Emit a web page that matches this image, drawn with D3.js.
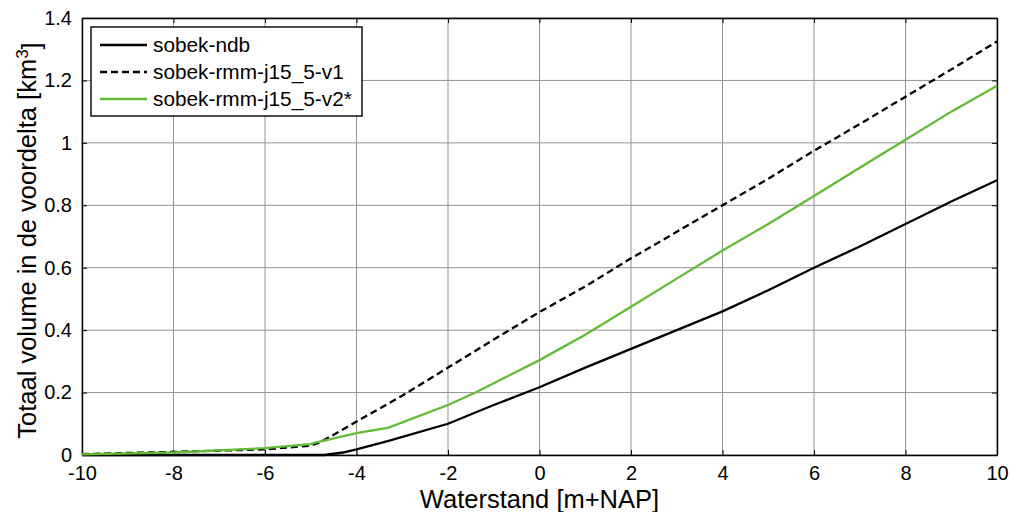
<!DOCTYPE html>
<html>
<head>
<meta charset="utf-8">
<script src="https://cdnjs.cloudflare.com/ajax/libs/d3/7.8.5/d3.min.js"></script>
<style>
  body { margin: 0; background: #fff; }
  text { font-family: Arial, "Liberation Sans", sans-serif; fill: #000; }
</style>
</head>
<body>
<svg id="chart" width="1011" height="512"></svg>
<script>
// series data
var ndbX = [-10, -8, -6, -5, -4.7, -4.3, -4, -3.3, -2, -1, 0, 1, 2, 3, 4, 5, 6, 7, 8, 9, 10];
var ndbY = [0, 0, 0, 0, 0, 0.008, 0.018, 0.045, 0.10, 0.16, 0.217, 0.28, 0.34, 0.40, 0.46, 0.528, 0.60, 0.668, 0.74, 0.812, 0.88];

var v1X = [-10, -8, -6, -5, -4.8, -4, -3, -2, -1, 0, 1, 2, 3, 4, 5, 6, 7, 8, 9, 10];
var v1Y = [0.003, 0.01, 0.018, 0.03, 0.04, 0.107, 0.19, 0.28, 0.37, 0.458, 0.54, 0.63, 0.715, 0.80, 0.885, 0.975, 1.06, 1.148, 1.235, 1.325];

var v2X = [-10, -8, -6, -5, -4.9, -4, -3.3, -2, -1.4, -1, 0, 1, 2, 3, 4, 5, 6, 7, 7.4, 8, 9, 10];
var v2Y = [0.002, 0.008, 0.022, 0.035, 0.04, 0.07, 0.088, 0.16, 0.20, 0.23, 0.304, 0.385, 0.475, 0.565, 0.655, 0.74, 0.83, 0.92, 0.956, 1.01, 1.10, 1.183];

var seriesNames = ["sobek-ndb", "sobek-rmm-j15_5-v1", "sobek-rmm-j15_5-v2*"];
var seriesColors = ["#000000", "#000000", "#62bb35"];
var seriesDash = [null, "7,4", null];

var xTicks = [-10, -8, -6, -4, -2, 0, 2, 4, 6, 8, 10];
var yTicks = [0, 0.2, 0.4, 0.6, 0.8, 1, 1.2, 1.4];

var xTitle = "Waterstand [m+NAP]";
var yTitle = "Totaal volume in de voordelta [km";

var dimensions = {
    width: 1011,
    height: 512,
    margin: { top: 18, bottom: 57, left: 82, right: 14 }
};

var svg = d3.select("#chart");
var plotW = dimensions.width - dimensions.margin.left - dimensions.margin.right;
var plotH = dimensions.height - dimensions.margin.top - dimensions.margin.bottom;

var g = svg.append("g")
    .attr("transform", "translate(" + dimensions.margin.left + "," + dimensions.margin.top + ")");

var xScale = d3.scaleLinear().domain([-10, 10]).range([0, plotW]);
var yScale = d3.scaleLinear().domain([0, 1.4]).range([plotH, 0]);

// grid
g.selectAll(".xgrid").data(xTicks).enter().append("line")
    .attr("x1", d => xScale(d)).attr("x2", d => xScale(d))
    .attr("y1", 0).attr("y2", plotH)
    .attr("stroke", "#939393").attr("stroke-width", 1);
g.selectAll(".ygrid").data(yTicks).enter().append("line")
    .attr("y1", d => yScale(d)).attr("y2", d => yScale(d))
    .attr("x1", 0).attr("x2", plotW)
    .attr("stroke", "#939393").attr("stroke-width", 1);

// axes (ticks inside on all four sides)
var fmt = d => String(+d.toFixed(1));
g.append("g").attr("transform", "translate(0," + plotH + ")")
    .call(d3.axisBottom(xScale).tickValues(xTicks).tickSizeInner(-5).tickSizeOuter(0).tickPadding(11).tickFormat(fmt));
g.append("g")
    .call(d3.axisTop(xScale).tickValues(xTicks).tickSizeInner(-5).tickSizeOuter(0).tickFormat(""));
g.append("g")
    .call(d3.axisLeft(yScale).tickValues(yTicks).tickSizeInner(-5).tickSizeOuter(0).tickPadding(10).tickFormat(fmt));
g.append("g").attr("transform", "translate(" + plotW + ",0)")
    .call(d3.axisRight(yScale).tickValues(yTicks).tickSizeInner(-5).tickSizeOuter(0).tickFormat(""));

g.selectAll(".domain").attr("stroke", "#000").attr("stroke-width", 1.4);
g.selectAll(".tick line").attr("stroke", "#000");
g.selectAll(".tick text").style("font-size", "20px").attr("fill", "#000");

// series lines
var line = d3.line().x(d => xScale(d[0])).y(d => yScale(d[1]));
var allSeries = [d3.zip(ndbX, ndbY), d3.zip(v1X, v1Y), d3.zip(v2X, v2Y)];

allSeries.forEach(function(data, i) {
    g.append("path")
        .datum(data)
        .attr("d", line)
        .attr("fill", "none")
        .attr("stroke", seriesColors[i])
        .attr("stroke-width", 2.3)
        .attr("stroke-dasharray", seriesDash[i]);
});

// legend
var legend = svg.append("g").attr("transform", "translate(91,27)");
legend.append("rect")
    .attr("x", 0).attr("y", 0).attr("width", 271).attr("height", 89)
    .attr("fill", "#fff").attr("stroke", "#000").attr("stroke-width", 1.4);
seriesNames.forEach(function(name, i) {
    var yy = 18 + i * 27;
    legend.append("line")
        .attr("x1", 9).attr("x2", 56).attr("y1", yy).attr("y2", yy)
        .attr("stroke", seriesColors[i]).attr("stroke-width", 2.3)
        .attr("stroke-dasharray", seriesDash[i]);
    legend.append("text")
        .attr("x", 62).attr("y", yy).attr("dy", "0.35em")
        .style("font-size", "20.8px")
        .text(name);
});

// axis titles
svg.append("text")
    .attr("x", dimensions.margin.left + plotW / 2)
    .attr("y", 508)
    .attr("text-anchor", "middle")
    .style("font-size", "25.5px")
    .text(xTitle);

var yt = svg.append("text")
    .attr("transform", "translate(36," + (dimensions.margin.top + plotH / 2 + 4) + ") rotate(-90)")
    .attr("text-anchor", "middle")
    .style("font-size", "25.5px");
yt.append("tspan").text(yTitle);
yt.append("tspan").attr("dy", "-0.45em").style("font-size", "17px").text("3");
yt.append("tspan").attr("dy", "0.45em").text("]");
</script>
</body>
</html>
